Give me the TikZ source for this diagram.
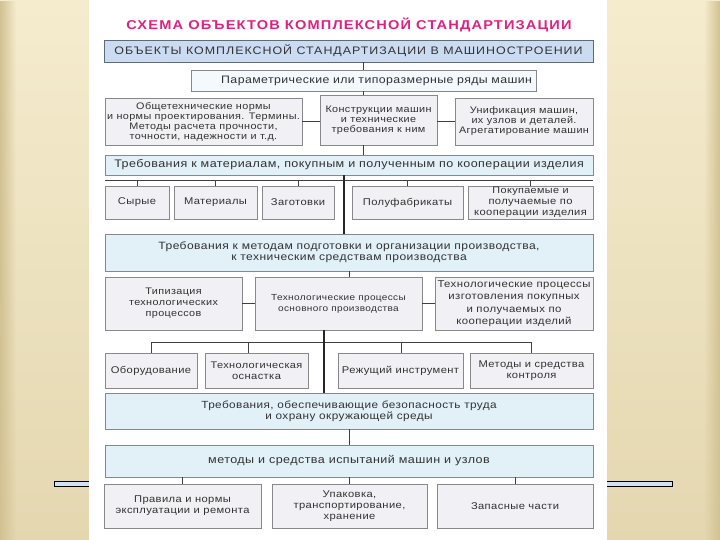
\documentclass[tikz,border=0pt]{standalone}
\usepackage{fontspec}
\setmainfont{Liberation Sans}
\newfontfamily\boxfont[FakeStretch=1.14,LetterSpace=4]{Liberation Sans}
\newfontfamily\capsfont[FakeStretch=1.14,LetterSpace=9]{Liberation Sans}
\usetikzlibrary{fadings}

\definecolor{tanL}{RGB}{245,236,206}
\definecolor{tanD}{RGB}{228,215,176}
\definecolor{tanE}{RGB}{210,193,146}
\definecolor{hdrblue}{RGB}{203,220,242}
\definecolor{hdrline}{RGB}{95,105,125}
\definecolor{paleblue}{RGB}{226,240,248}
\definecolor{palegray}{RGB}{241,241,245}
\definecolor{boxline}{RGB}{135,135,140}
\definecolor{txtgray}{RGB}{50,50,50}
\definecolor{titlepink}{RGB}{222,32,128}
\definecolor{barblue}{RGB}{208,226,242}

\newcommand\fs[2]{\fontsize{#1}{#2}\selectfont}

\begin{document}
\begin{tikzpicture}[x=1pt,y=-1pt,
  box/.style={draw=boxline,fill=palegray,line width=0.8pt,text=txtgray,align=center,inner sep=1pt,
    font=\boxfont\fs{9.8}{10.8}},
  dense/.style={font=\boxfont\fs{9.5}{10}},
  reqbox/.style={box,fill=paleblue,font=\boxfont\fs{11}{11}},
  sz/.style 2 args={minimum width=#1,minimum height=#2},
  conn/.style={line width=0.9pt,draw=black!75},
  trunk/.style={line width=1.4pt,draw=black!85}]
  \useasboundingbox (0,0) rectangle (720,540);
  % background of the slide
  \shade[top color=tanL,bottom color=tanD] (0,0) rectangle (720,540);
  \fill[tanE,path fading=east] (0,0) rectangle (16,540);
  \fill[tanE,path fading=west] (704,0) rectangle (720,540);
  \draw[black,line width=0.8pt,fill=barblue] (54,481) rectangle (672,486);
  \fill[white] (89,0) rectangle (607,540);

  \node[text=titlepink,font=\capsfont\bfseries\fs{12.8}{13}] (title) at (349,25)
    {СХЕМА ОБЪЕКТОВ КОМПЛЕКСНОЙ СТАНДАРТИЗАЦИИ};
  \node[box,fill=hdrblue,draw=hdrline,sz={489}{22},font=\capsfont\fs{10.9}{11}] (obj) at (348.5,51)
    {ОБЪЕКТЫ КОМПЛЕКСНОЙ СТАНДАРТИЗАЦИИ В МАШИНОСТРОЕНИИ};
  \node[box,fill=paleblue!40,minimum height=21pt,text width=337pt,inner xsep=4pt,align=right,
    font=\boxfont\fs{10.8}{11}] (par) at (363.5,80.5)
    {Параметрические или типоразмерные ряды машин};

  % third row
  \node[box,dense,sz={197}{47}] (norm) at (203.5,121.5)
    {Общетехнические нормы\\и нормы проектирования. Термины.\\Методы расчета прочности,\\точности, надежности и т.д.};
  \node[box,dense,sz={117}{50}] (konstr) at (378.5,120)
    {Конструкции машин\\и технические\\требования к ним};
  \node[box,dense,sz={138}{47}] (unif) at (524,121.5)
    {Унификация машин,\\их узлов и деталей.\\Агрегатирование машин};
  \draw[conn] (par.north |- obj.south) -- (par.north);
  \draw[conn] (par.south) -- (par.south |- konstr.north);
  \draw[conn] (norm.east) -- (norm.east -| konstr.west);
  \draw[conn] (unif.west -| konstr.east) -- (unif.west);

  \node[reqbox,sz={488}{20}] (mat) at (349,165)
    {Требования к материалам, покупным и полученным по кооперации изделия};
  \draw[conn] (par.south |- konstr.south) -- (par.south |- mat.north);
  \coordinate (busA) at (105,180);
  \coordinate (busB) at (593,180);
  \draw[conn] (busA) -- (busB);
  \foreach \nm/\xl/\xr/\txt in {syr/105/169/{Сырые},mater/174/257/{Материалы},zag/262/334/{Заготовки},
      polu/352/463/{Полуфабрикаты},pokup/468/593/{\fs{9.5}{10}Покупаемые и\\получаемые по\\кооперации изделия}}{
    \node[box,minimum width={\xr-\xl},minimum height=33pt] (\nm) at ({(\xl+\xr)/2},202.5) {\txt};
    \draw[conn] (\nm.north |- busA) -- (\nm.north);
  }

  \node[reqbox,sz={488}{37},font=\boxfont\fs{10.6}{11}] (prep) at (349,252.5)
    {Требования к методам подготовки и организации производства,\\к техническим средствам производства};
  \draw[trunk] ([xshift=-5pt]mat.south) -- ([xshift=-5pt]mat.south |- prep.north);

  \node[box,sz={137}{53},font=\boxfont\fs{9.5}{11}] (tipiz) at (173.5,303.5)
    {Типизация\\технологических\\процессов};
  \node[box,sz={167}{53},font=\boxfont\fs{8.8}{11}] (osnpr) at (338.5,303.5)
    {Технологические процессы\\основного производства};
  \node[box,sz={158}{53},font=\boxfont\fs{10}{12.2}] (izgot) at (514,303.5)
    {Технологические процессы\\изготовления покупных\\и получаемых по\\кооперации изделий};
  \draw[conn] (prep.south) -- (prep.south |- osnpr.north);
  \draw[conn] (tipiz.east) -- (osnpr.west);
  \draw[conn] (osnpr.east) -- (izgot.west);

  \coordinate (busC) at (151,342);
  \coordinate (busD) at (532,342);
  \draw[conn] (busC) -- (busD);
  \foreach \nm/\xl/\xr/\tx/\txt in {obor/105/197/151/{Оборудование},osnast/205/308/248/{\fs{9.6}{10.5}Технологическая\\оснастка},
      rezh/338/463/401/{Режущий инструмент},kontr/470/593/531.5/{Методы и средства\\контроля}}{
    \node[box,minimum width={\xr-\xl},minimum height=35pt] (\nm) at ({(\xl+\xr)/2},370.5) {\txt};
    \draw[conn] (busC -| \tx,0) -- (\nm.north -| \tx,0);
  }

  \node[reqbox,sz={488}{36},font=\boxfont\fs{10.35}{11}] (bezop) at (349,411)
    {Требования, обеспечивающие безопасность труда\\и охрану окружающей среды};
  \draw[trunk] ([xshift=-14.5pt]osnpr.south) -- ([xshift=-14.5pt]osnpr.south |- bezop.north);

  \node[reqbox,sz={488}{32}] (ispyt) at (349,461)
    {методы и средства испытаний машин и узлов};
  \draw[conn] (bezop.south) -- (ispyt.north);
  \foreach \nm/\xl/\xr/\txt in {prav/104/261/{Правила и нормы\\эксплуатации и ремонта},
      upak/272/427/{Упаковка,\\транспортирование,\\хранение},zap/437/593/{Запасные части}}{
    \node[box,minimum width={\xr-\xl},minimum height=44pt] (\nm) at ({(\xl+\xr)/2},506) {\txt};
    \draw[conn] (\nm.north |- ispyt.south) -- (\nm.north);
  }
\end{tikzpicture}
\end{document}
